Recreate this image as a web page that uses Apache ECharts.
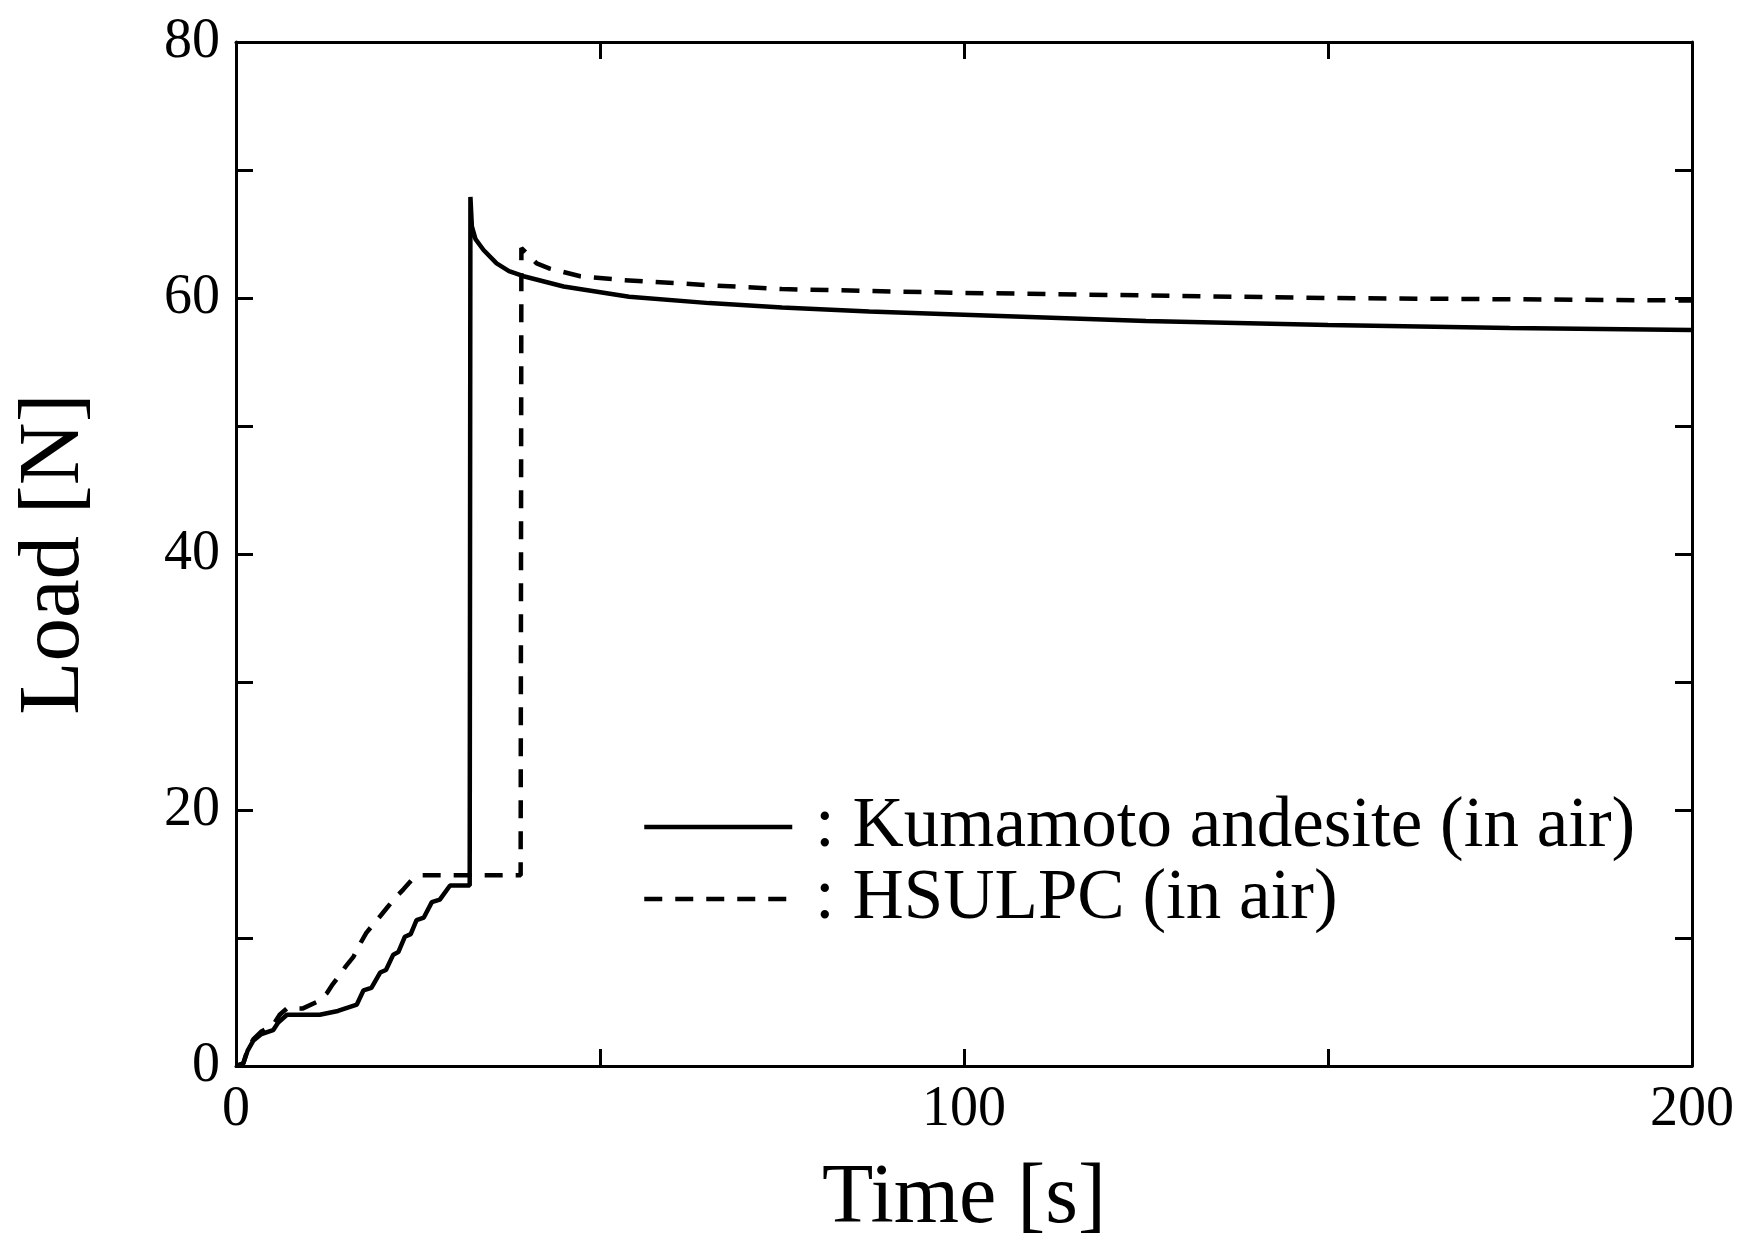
<!DOCTYPE html>
<html>
<head>
<meta charset="utf-8">
<title>Load vs Time</title>
<script src="https://cdn.jsdelivr.net/npm/echarts@6/dist/echarts.min.js"></script>
<style>
  html, body { margin: 0; padding: 0; background: #fff; }
  #chart { width: 1741px; height: 1254px; }
</style>
</head>
<body>
<div id="chart"></div>
<script>
// Load histories, [time s, load N]
const andesiteName = 'Kumamoto andesite (in air)';
const andesiteData = [
  [0, 0], [1.0, 0.2], [1.6, 1.2], [2.4, 2.0], [3.5, 2.5], [5.1, 2.8], [5.8, 3.4],
  [7.0, 4.0], [9.0, 4.0], [11.5, 4.0], [14.0, 4.3], [16.6, 4.8], [17.5, 5.9],
  [18.6, 6.1], [19.8, 7.3], [20.6, 7.5], [21.6, 8.7], [22.3, 8.9], [23.2, 10.1],
  [24.0, 10.3], [24.8, 11.4], [25.8, 11.6], [26.9, 12.8], [28.0, 13.0],
  [29.4, 14.1], [32.1, 14.1], [32.2, 67.9], [32.4, 65.6], [32.9, 64.6],
  [34.0, 63.75], [35.8, 62.7], [37.5, 62.1], [39.5, 61.7], [45, 60.9], [54, 60.1],
  [65, 59.6], [75, 59.25], [87, 58.95], [100, 58.7], [125, 58.2], [150, 57.9],
  [175, 57.65], [200, 57.5]
];

const hsulpcName = 'HSULPC (in air)';
const hsulpcData = [
  [0, 0], [1.0, 0.2], [1.6, 1.3], [2.4, 2.1], [3.5, 2.7], [5.1, 3.2], [6.0, 4.0],
  [7.0, 4.5], [9.2, 4.5], [11.1, 5.0], [12.5, 5.7], [13.3, 6.4], [14.1, 7.0],
  [15.1, 7.8], [16.1, 8.5], [17.0, 9.5], [17.9, 10.4], [18.9, 11.1], [19.8, 11.7],
  [20.8, 12.4], [21.8, 13.1], [23.0, 13.8], [24.1, 14.5], [25.6, 14.9],
  [39.1, 14.9], [39.2, 63.9], [41.3, 62.7], [43.1, 62.3], [47.3, 61.7],
  [53.2, 61.4], [65, 61.0], [75, 60.7], [87, 60.55], [100, 60.4], [125, 60.2],
  [150, 60.0], [175, 59.9], [200, 59.8]
];

// Axis ranges and labelled ticks
const xRange = [0, 200], xStep = 50, xLabelStep = 100;
const yRange = [0, 80], yStep = 10, yLabelStep = 20;

const serif = '"Liberation Serif", "Times New Roman", serif';
const ink = '#000';

function frameAxis(pos, range, step, labelStep, withLabels) {
  return {
    type: 'value',
    position: pos,
    min: range[0],
    max: range[1],
    interval: step,
    axisLine: { show: true, onZero: false, lineStyle: { color: ink, width: 3 } },
    axisTick: { show: true, inside: true, length: 17, lineStyle: { color: ink, width: 3 } },
    axisLabel: {
      show: withLabels,
      margin: 16,
      fontFamily: serif,
      fontSize: 56,
      color: ink,
      formatter: v => (v % labelStep === 0 ? String(v) : '')
    },
    splitLine: { show: false }
  };
}

const xBottom = frameAxis('bottom', xRange, xStep, xLabelStep, true);
xBottom.name = 'Time [s]';
xBottom.nameLocation = 'middle';
xBottom.nameGap = 92;
xBottom.nameTextStyle = { fontFamily: serif, fontSize: 84, color: ink };

const yLeft = frameAxis('left', yRange, yStep, yLabelStep, true);
yLeft.name = 'Load [N]';
yLeft.nameLocation = 'middle';
yLeft.nameGap = 137;
yLeft.nameTextStyle = { fontFamily: serif, fontSize: 87, color: ink };

const chart = echarts.init(document.getElementById('chart'), null, { renderer: 'canvas' });
chart.setOption({
  backgroundColor: '#fff',
  animation: false,
  grid: { left: 236, right: 49, top: 42, bottom: 188 },
  xAxis: [xBottom, frameAxis('top', xRange, xStep, xLabelStep, false)],
  yAxis: [yLeft, frameAxis('right', yRange, yStep, yLabelStep, false)],
  legend: {
    orient: 'vertical',
    left: 642,
    top: 791,
    itemWidth: 148,
    itemHeight: 20,
    itemGap: 0,
    padding: 0,
    data: [andesiteName, hsulpcName],
    formatter: name => '\u00a0:\u00a0' + name,
    itemStyle: { color: 'transparent', borderWidth: 0, opacity: 0 },
    lineStyle: { width: 4.5, color: ink },
    textStyle: { fontFamily: serif, fontSize: 71, lineHeight: 72, color: ink }
  },
  series: [
    {
      name: andesiteName,
      type: 'line',
      xAxisIndex: 0,
      yAxisIndex: 0,
      data: andesiteData,
      symbol: 'none',
      lineStyle: { color: ink, width: 4.5, type: 'solid' },
      itemStyle: { color: ink }
    },
    {
      name: hsulpcName,
      type: 'line',
      xAxisIndex: 0,
      yAxisIndex: 0,
      data: hsulpcData,
      symbol: 'none',
      lineStyle: { color: ink, width: 4.5, type: [18, 13] },
      itemStyle: { color: ink }
    }
  ]
});
</script>
</body>
</html>
